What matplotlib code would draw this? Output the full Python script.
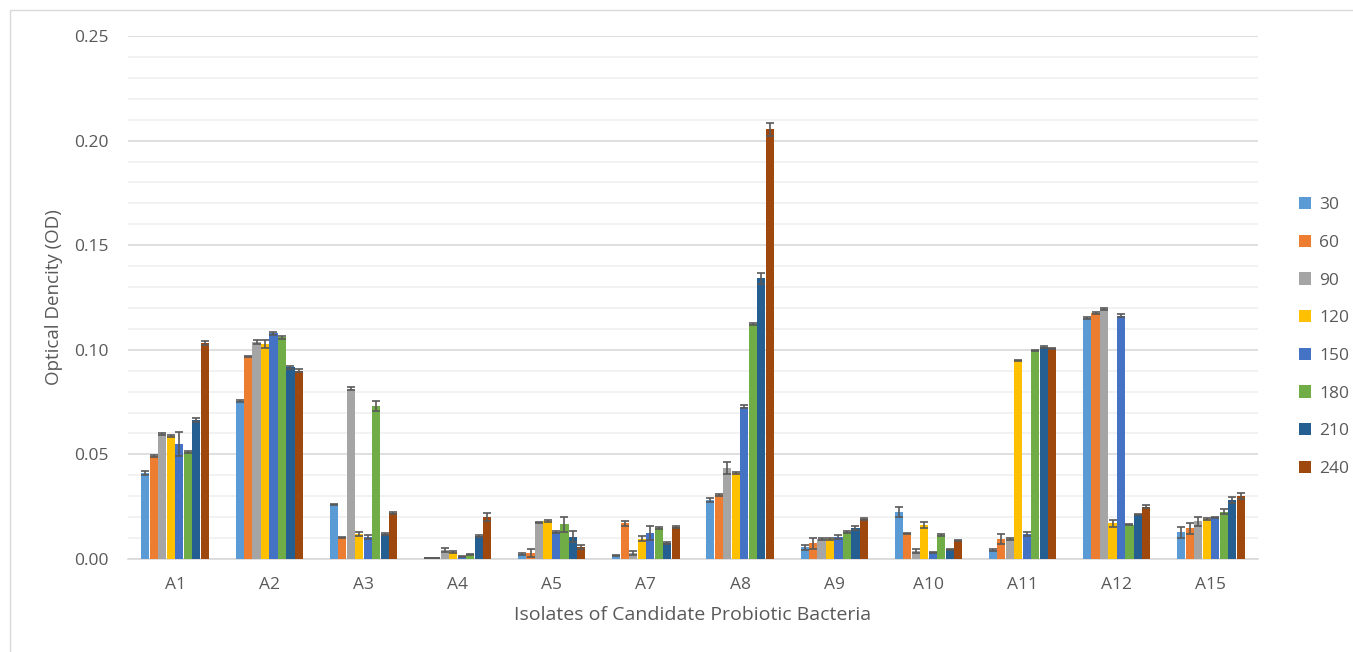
import matplotlib
matplotlib.use("Agg")
import matplotlib.pyplot as plt
import numpy as np
from matplotlib.patches import Rectangle
from matplotlib.ticker import MultipleLocator

isolates = ["A1", "A2", "A3", "A4", "A5", "A7", "A8", "A9", "A10", "A11", "A12", "A15"]
series = ["30", "60", "90", "120", "150", "180", "210", "240"]
colors = ["#5B9BD5", "#ED7D31", "#A5A5A5", "#FFC000", "#4472C4", "#70AD47", "#255E91", "#9E480E"]

v30  = [0.0413, 0.0755, 0.0261, 0.0005, 0.0022, 0.0016, 0.0282, 0.0056, 0.0223, 0.0043, 0.1153, 0.0127]
v60  = [0.0492, 0.0967, 0.0102, 0.0005, 0.0030, 0.0171, 0.0306, 0.0075, 0.0122, 0.0096, 0.1177, 0.0146]
v90  = [0.0597, 0.1036, 0.0815, 0.0043, 0.0175, 0.0030, 0.0434, 0.0095, 0.0040, 0.0096, 0.1194, 0.0180]
v120 = [0.0589, 0.1028, 0.0119, 0.0035, 0.0182, 0.0097, 0.0410, 0.0095, 0.0161, 0.0948, 0.0170, 0.0191]
v150 = [0.0548, 0.1079, 0.0107, 0.0011, 0.0128, 0.0123, 0.0728, 0.0107, 0.0032, 0.0120, 0.1163, 0.0199]
v180 = [0.0511, 0.1060, 0.0731, 0.0022, 0.0166, 0.0147, 0.1123, 0.0129, 0.0116, 0.0996, 0.0164, 0.0227]
v210 = [0.0664, 0.0916, 0.0118, 0.0110, 0.0107, 0.0075, 0.1342, 0.0147, 0.0046, 0.1012, 0.0212, 0.0281]
v240 = [0.1031, 0.0900, 0.0221, 0.0201, 0.0059, 0.0154, 0.2054, 0.0190, 0.0088, 0.1007, 0.0250, 0.0302]

e30  = [0.0010, 0.0003, 0.0003, 0.0002, 0.0005, 0.0004, 0.0010, 0.0013, 0.0024, 0.0003, 0.0006, 0.0025]
e60  = [0.0005, 0.0003, 0.0003, 0.0002, 0.0020, 0.0013, 0.0005, 0.0025, 0.0004, 0.0024, 0.0005, 0.0025]
e90  = [0.0005, 0.0010, 0.0005, 0.0010, 0.0004, 0.0010, 0.0030, 0.0004, 0.0010, 0.0004, 0.0005, 0.0023]
e120 = [0.0005, 0.0020, 0.0010, 0.0004, 0.0004, 0.0013, 0.0004, 0.0004, 0.0015, 0.0003, 0.0015, 0.0004]
e150 = [0.0058, 0.0008, 0.0010, 0.0002, 0.0004, 0.0033, 0.0008, 0.0010, 0.0003, 0.0008, 0.0006, 0.0004]
e180 = [0.0004, 0.0008, 0.0024, 0.0003, 0.0037, 0.0004, 0.0003, 0.0004, 0.0004, 0.0003, 0.0003, 0.0010]
e210 = [0.0008, 0.0006, 0.0004, 0.0004, 0.0027, 0.0004, 0.0027, 0.0010, 0.0004, 0.0004, 0.0004, 0.0015]
e240 = [0.0010, 0.0008, 0.0004, 0.0020, 0.0010, 0.0004, 0.0030, 0.0004, 0.0004, 0.0003, 0.0008, 0.0013]

values = [v30, v60, v90, v120, v150, v180, v210, v240]
errors = [e30, e60, e90, e120, e150, e180, e210, e240]

plt.rcParams['font.family'] = ['Open Sans', 'DejaVu Sans']
fig = plt.figure(figsize=(13.53, 6.52), dpi=100)
ax = fig.add_axes([128/1353, (652-559)/652, (1258-128)/1353, (559-36)/652])

x = np.arange(len(isolates))
n = len(series)
bw = 0.09
for i, (s, vals, errs, c) in enumerate(zip(series, values, errors, colors)):
    pos = x + (i - (n-1)/2) * bw
    ax.bar(pos, vals, width=bw*0.96, color=c, label=s, zorder=3,
           yerr=errs, error_kw=dict(ecolor="#595959", elinewidth=1.2, capsize=3.2, capthick=1.2, zorder=4))

ax.set_ylim(0, 0.25)
ax.set_xlim(-0.5, len(isolates)-0.5)
ax.yaxis.set_major_locator(MultipleLocator(0.05))
ax.yaxis.set_minor_locator(MultipleLocator(0.01))
ax.yaxis.set_major_formatter(matplotlib.ticker.FormatStrFormatter('%.2f'))
ax.grid(axis='y', which='major', color='#D9D9D9', linewidth=1.2, zorder=0)
ax.grid(axis='y', which='minor', color='#F0F0F0', linewidth=1.2, zorder=0)
ax.set_xticks(x)
ax.set_xticklabels(isolates)
for sp in ['top', 'right', 'left']:
    ax.spines[sp].set_visible(False)
ax.spines['bottom'].set_color('#D9D9D9')
ax.spines['bottom'].set_linewidth(1.2)
ax.tick_params(axis='both', which='both', length=0, labelsize=12.5, colors='#595959')
ax.tick_params(axis='y', pad=14)
ax.tick_params(axis='x', pad=13)
ax.set_ylabel("Optical Dencity (OD)", fontsize=13.5, color='#595959', labelpad=8)
ax.set_xlabel("Isolates of Candidate Probiotic Bacteria", fontsize=14, color='#595959', labelpad=9)

fig.legend(loc='center left', bbox_to_anchor=(1283/1353, (652-337)/652), frameon=False,
           fontsize=12.5, labelcolor='#595959', handlelength=0.7, handleheight=0.7,
           handletextpad=0.5, labelspacing=1.24)

fig.patches.append(Rectangle((10/1353, -0.01), 1.0, (652-10)/652 + 0.01, transform=fig.transFigure,
                             fill=False, edgecolor='#D9D9D9', linewidth=1.0))

fig.savefig("out.png", dpi=100)
